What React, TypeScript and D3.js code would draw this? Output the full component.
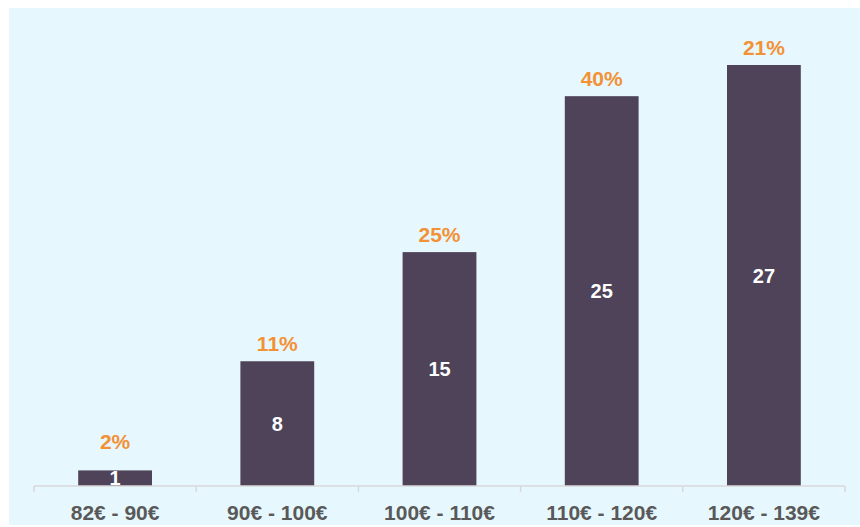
import * as d3 from "d3";

const categories = ["82€ - 90€", "90€ - 100€", "100€ - 110€", "110€ - 120€", "120€ - 139€"];
const counts = [1, 8, 15, 25, 27];
const shares = ["2%", "11%", "25%", "40%", "21%"];

const width = 860;
const height = 527;
const baseY = 486;
const font = "'Liberation Sans', Arial, sans-serif";

export default function App() {
  const x = d3.scaleBand<string>().domain(categories).range([34, 845]);
  const y = d3.scaleLinear().domain([0, 27]).range([baseY, 65]);
  const barW = x.bandwidth() * 0.455;
  const ticks = [...categories.map((c) => x(c) as number), 845];

  return (
    <svg
      width={width}
      height={height}
      style={{ position: "absolute", left: 0, top: 0, fontFamily: font }}
    >
      <rect x={0} y={0} width={width} height={height} fill="#ffffff" />
      <rect x={9} y={8} width={width - 9} height={517} fill="#e6f8fd" />

      {categories.map((c, i) => {
        const cx = (x(c) as number) + x.bandwidth() / 2;
        const top = y(counts[i]);
        return (
          <g key={c}>
            <rect
              x={cx - barW / 2}
              y={top}
              width={barW}
              height={baseY - top}
              fill="#4e4359"
            />
            <text
              x={cx}
              y={(top + baseY) / 2 + 7}
              textAnchor="middle"
              fill="#ffffff"
              fontSize={20}
              fontWeight="bold"
            >
              {counts[i]}
            </text>
            <text
              x={cx}
              y={Math.min(top, baseY - 27) - 10}
              textAnchor="middle"
              fill="#f39137"
              fontSize={21}
              fontWeight="bold"
            >
              {shares[i]}
            </text>
            <text
              x={cx}
              y={520}
              textAnchor="middle"
              fill="#595959"
              fontSize={21}
              fontWeight="bold"
            >
              {c}
            </text>
          </g>
        );
      })}

      <line x1={34} x2={845} y1={baseY} y2={baseY} stroke="#d9d9d9" strokeWidth={1.5} />
      {ticks.map((t) => (
        <line key={t} x1={t} x2={t} y1={baseY} y2={baseY + 6} stroke="#d9d9d9" strokeWidth={1.5} />
      ))}
    </svg>
  );
}
